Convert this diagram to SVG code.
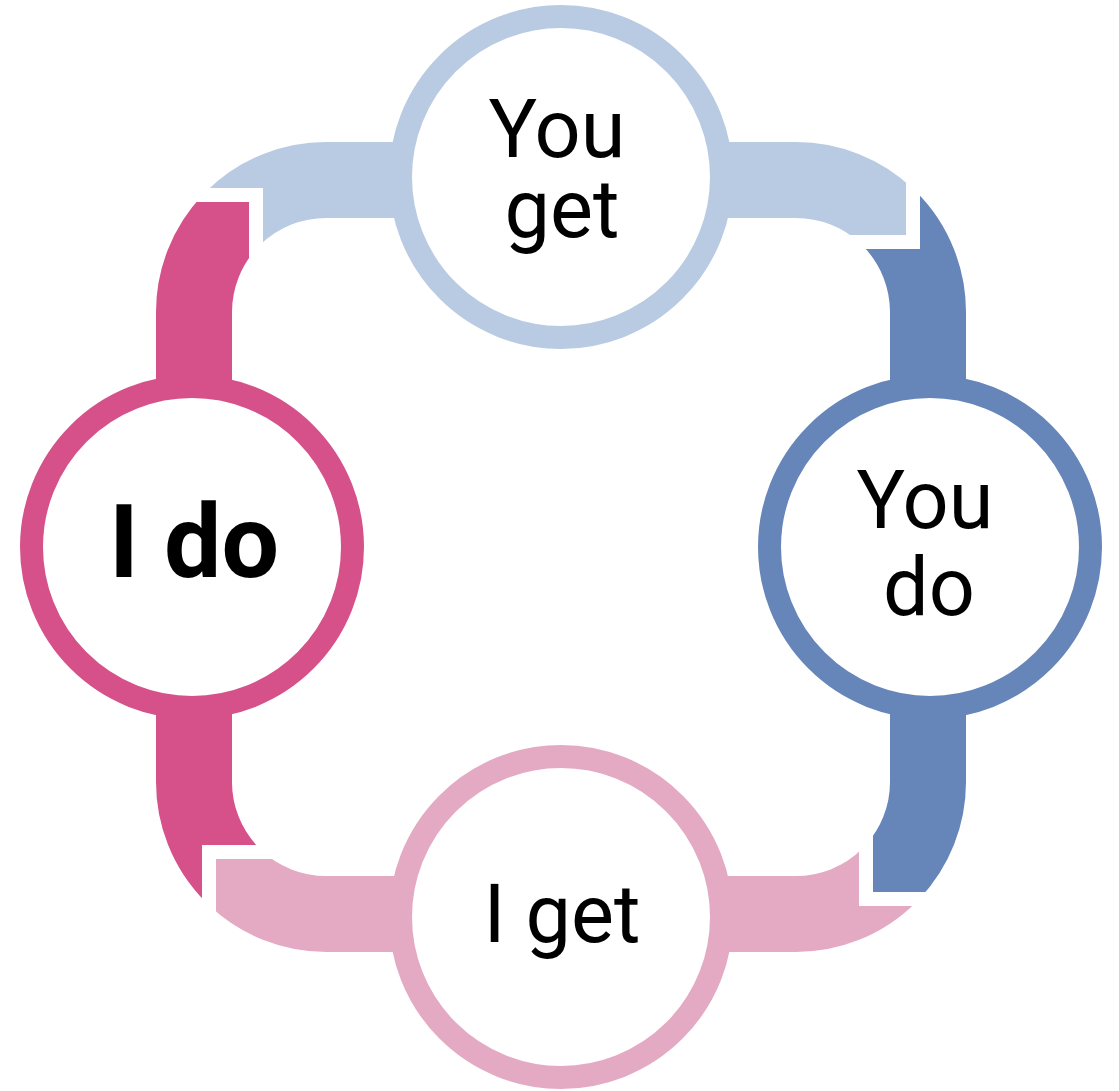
<svg xmlns="http://www.w3.org/2000/svg" width="1119" height="1091" viewBox="0 0 1119 1091">
<style>
.band{fill:none;stroke-width:76}
.ring{fill:#ffffff;stroke-width:23}
.gap{fill:none;stroke:#ffffff;stroke-width:14}
.lbl{font-family:Roboto,"Liberation Sans",sans-serif;fill:#000000;text-anchor:middle}
.reg{font-size:81px}
.bold{font-size:102px;font-weight:bold}
</style>
<defs>
<rect id="loop" x="194" y="180" width="734" height="734" rx="132" ry="132"/>
<clipPath id="cTop"><polygon points="0,0 913,0 913,242 600,242 600,300 256,300 256,195 0,195"/></clipPath>
<clipPath id="cRight"><polygon points="913,0 1119,0 1119,899 866,899 866,600 700,600 700,242 913,242"/></clipPath>
<clipPath id="cBottom"><polygon points="209,1091 1119,1091 1119,899 866,899 866,780 320,780 320,852 209,852"/></clipPath>
<clipPath id="cLeft"><polygon points="0,195 256,195 256,600 320,600 320,852 209,852 209,1091 0,1091"/></clipPath>
</defs>
<rect width="1119" height="1091" fill="#ffffff"/>
<g id="connectors">
<use href="#loop" class="band" stroke="#B8CBE2" clip-path="url(#cTop)"/>
<use href="#loop" class="band" stroke="#6685B9" clip-path="url(#cRight)"/>
<use href="#loop" class="band" stroke="#E4AAC4" clip-path="url(#cBottom)"/>
<use href="#loop" class="band" stroke="#D6518A" clip-path="url(#cLeft)"/>
<path class="gap" d="M120 195 H256 V290"/>
<path class="gap" d="M913 110 V242 H820"/>
<path class="gap" d="M1000 899 H866 V800"/>
<path class="gap" d="M209 980 V852 H300"/>
</g>
<g id="node-you-get">
<circle class="ring" cx="561" cy="177" r="160.5" stroke="#B8CBE2"/>
<text class="lbl reg" x="557" y="157">You</text>
<text class="lbl reg" x="562" y="237">get</text>
</g>
<g id="node-you-do">
<circle class="ring" cx="930" cy="547" r="160.5" stroke="#6685B9"/>
<text class="lbl reg" x="925" y="528">You</text>
<text class="lbl reg" x="929" y="615">do</text>
</g>
<g id="node-i-get">
<circle class="ring" cx="561" cy="917" r="160.5" stroke="#E4AAC4"/>
<text class="lbl reg" x="562" y="942">I get</text>
</g>
<g id="node-i-do">
<circle class="ring" cx="192" cy="547" r="160.5" stroke="#D6518A"/>
<text class="lbl bold" x="194" y="577">I do</text>
</g>
</svg>
